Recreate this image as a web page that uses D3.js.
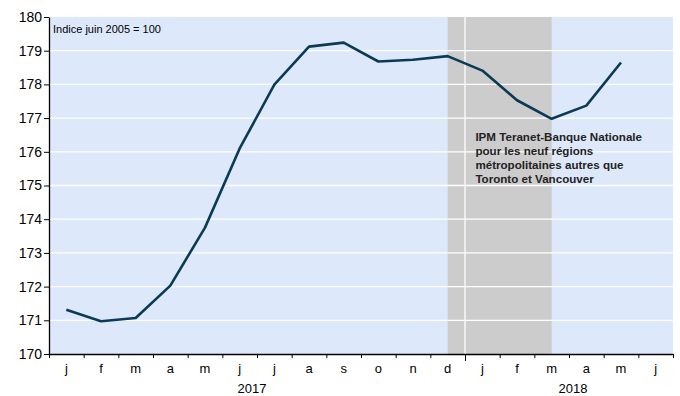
<!DOCTYPE html>
<html>
<head>
<meta charset="utf-8">
<script src="https://cdn.jsdelivr.net/npm/d3@7"></script>
<style>
  body { margin: 0; background: #fff; }
  svg { display: block; font-family: "Liberation Sans", Arial, sans-serif; }
</style>
</head>
<body>
<svg class="chart"></svg>
<script>
const months = ["j", "f", "m", "a", "m", "j", "j", "a", "s", "o", "n", "d", "j", "f", "m", "a", "m", "j"];
const years = ["2017", "2018"];
const yearStarts = [0, 12];
const values = [171.31, 170.97, 171.07, 172.03, 173.75, 176.10, 177.99, 179.12, 179.24,
  178.68, 178.73, 178.84, 178.41, 177.53, 176.98, 177.37, 178.65];
const yTicks = [170, 171, 172, 173, 174, 175, 176, 177, 178, 179, 180];
const shadeFrom = 11, shadeTo = 14; // d 2017 -> m 2018
const note = "Indice juin 2005 = 100";
const label = ["IPM Teranet-Banque Nationale", "pour les neuf régions",
  "métropolitaines autres que", "Toronto et Vancouver"];

const width = 680,
  height = 396,
  margin = { top: 17, right: 7, bottom: 42, left: 49 },
  bg = "#dde9fb",
  shade = "#cccccc",
  lineColor = "#0b3a55";

const x = d3.scaleLinear()
  .domain([0, months.length])
  .range([margin.left, width - margin.right]);
const y = d3.scaleLinear()
  .domain([170, 180])
  .range([height - margin.bottom, margin.top]);

const chart = d3.select(".chart")
  .attr("width", width)
  .attr("height", height);

// plot background
chart.append("rect")
  .attr("x", x(0))
  .attr("y", y(180))
  .attr("width", x(months.length) - x(0))
  .attr("height", y(170) - y(180))
  .attr("fill", bg);

// shaded period
chart.append("rect")
  .attr("x", x(shadeFrom + 0.5))
  .attr("y", y(180))
  .attr("width", x(shadeTo + 0.5) - x(shadeFrom + 0.5))
  .attr("height", y(170) - y(180))
  .attr("fill", shade);

// gridlines
chart.append("g").selectAll("line")
  .data(yTicks.filter(d => d > 170 && d < 180))
  .enter().append("line")
  .attr("x1", x(0))
  .attr("x2", x(months.length))
  .attr("y1", d => y(d))
  .attr("y2", d => y(d))
  .attr("stroke", "#fff")
  .attr("stroke-width", 1.3);
chart.append("g").selectAll("line")
  .data(yearStarts.slice(1))
  .enter().append("line")
  .attr("x1", d => x(d))
  .attr("x2", d => x(d))
  .attr("y1", y(180))
  .attr("y2", y(170))
  .attr("stroke", "#fff")
  .attr("stroke-width", 1.3);

// y axis
let yAxis = d3.axisLeft(y)
  .tickValues(yTicks)
  .tickSizeInner(5)
  .tickSizeOuter(0)
  .tickPadding(2);
chart.append("g")
  .attr("transform", `translate(${x(0)},0)`)
  .call(yAxis)
  .call(g => g.select(".domain").attr("stroke-width", 1.3))
  .selectAll("text")
  .attr("font-size", 14)
  .attr("fill", "#000");

// x axis: ticks at month boundaries
let xAxis = d3.axisBottom(x)
  .tickValues(d3.range(months.length + 1))
  .tickSizeInner(4)
  .tickSizeOuter(0)
  .tickFormat("");
chart.append("g")
  .attr("transform", `translate(0,${y(170)})`)
  .call(xAxis)
  .call(g => g.select(".domain").attr("stroke-width", 1.3))
  .selectAll(".tick line")
  .attr("y2", d => yearStarts.includes(d) && d > 0 ? 7 : 4);

chart.append("g").selectAll("text")
  .data(months)
  .enter().append("text")
  .attr("x", (d, i) => x(i + 0.5))
  .attr("y", y(170) + 19)
  .attr("text-anchor", "middle")
  .attr("font-size", 13)
  .text(d => d);

// year labels, roughly centred under their months
chart.append("g").selectAll("text")
  .data(years)
  .enter().append("text")
  .attr("x", (d, i) => {
    let end = i + 1 < yearStarts.length ? yearStarts[i + 1] : months.length;
    return x((yearStarts[i] + end) / 2) + (i === 0 ? -5 : 4);
  })
  .attr("y", y(170) + 39)
  .attr("text-anchor", "middle")
  .attr("font-size", 13)
  .text(d => d);

// series
let line = d3.line()
  .x((d, i) => x(i + 0.5))
  .y(d => y(d));
chart.append("path")
  .datum(values)
  .attr("d", line)
  .attr("fill", "none")
  .attr("stroke", lineColor)
  .attr("stroke-width", 2.6)
  .attr("stroke-linejoin", "round");

// texts
chart.append("text")
  .attr("x", x(0) + 4)
  .attr("y", y(180) + 16)
  .attr("font-size", 11)
  .text(note);

chart.append("g").selectAll("text")
  .data(label)
  .enter().append("text")
  .attr("x", x(12.3))
  .attr("y", (d, i) => y(176.4) + 3 + i * 14)
  .attr("font-size", 11.6)
  .attr("font-weight", "bold")
  .attr("fill", "#222")
  .text(d => d);
</script>
</body>
</html>
